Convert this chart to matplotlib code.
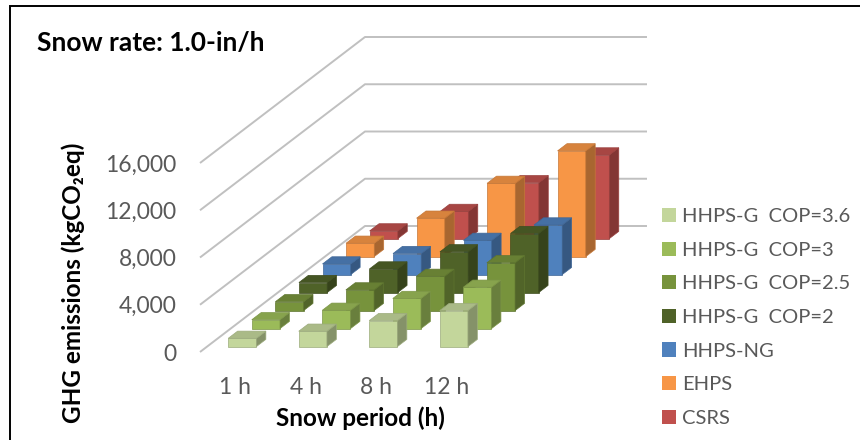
import matplotlib
matplotlib.use("Agg")
import matplotlib.pyplot as plt
from matplotlib.transforms import Affine2D
from matplotlib.patches import Patch, Rectangle
from matplotlib.colors import to_rgb

plt.rcParams["font.family"] = ["Lato", "DejaVu Sans"]

periods = ["1 h", "4 h", "8 h", "12 h"]
series_names = ["HHPS-G  COP=3.6", "HHPS-G  COP=3", "HHPS-G  COP=2.5",
                "HHPS-G  COP=2", "HHPS-NG", "EHPS", "CSRS"]

# GHG emissions (kgCO2eq) per snow period
hhps_g_36 = [700, 1300, 2200, 3050]
hhps_g_3 = [750, 1550, 2550, 3500]
hhps_g_25 = [750, 1750, 2900, 4050]
hhps_g_2 = [850, 2000, 3450, 5000]
hhps_ng = [900, 1780, 2900, 4200]
ehps = [1130, 3250, 6200, 8950]
csrs = [650, 2300, 4730, 7080]
series_values = [hhps_g_36, hhps_g_3, hhps_g_25, hhps_g_2, hhps_ng, ehps, csrs]

colors = ["#c3d69b", "#9bbb59", "#77933c", "#4f6228", "#4f81bd", "#f79646", "#c0504d"]
yticks = [0, 4000, 8000, 12000, 16000]

# oblique projection: one category = CAT_PX pixels wide, each series slot
# steps back by SLOT_PX (right, up)
CAT_PX = 70.5
PX_PER_UNIT = 47.25 / 4000
SLOT_PX = (23.57, 18.0)
DX = SLOT_PX[0] / CAT_PX
DZ = SLOT_PX[1] / PX_PER_UNIT
BAR_W = 0.4
BAR_D = 0.4


def shade(c, f):
    return tuple(v * f for v in to_rgb(c))


fig = plt.figure(figsize=(8.6, 4.4), dpi=100)
ax = fig.add_axes([200 / 860, 88 / 440, 450 / 860, 322 / 440])
ax.patch.set_visible(False)
for sp in ax.spines.values():
    sp.set_visible(False)

n_ser = len(series_values)
n_cat = len(periods)

# side and back wall gridlines
wall_x = n_ser * DX
for v in yticks:
    ax.plot([0, wall_x, wall_x + n_cat], [v, v + n_ser * DZ, v + n_ser * DZ],
            color="#c0c0c0", lw=1.4, zorder=0, clip_on=False, solid_capstyle="butt")


def draw_bar(x0, t0, h, color):
    ec = shade(color, 0.8)
    front = Affine2D().translate(t0 * DX, t0 * DZ) + ax.transData
    ax.bar(x0, h, width=BAR_W, align="edge", color=color, edgecolor=ec,
           lw=0.5, transform=front, clip_on=False)
    side = Affine2D.from_values(DX, DZ, 0, 1, x0 + BAR_W, 0) + ax.transData
    ax.bar(t0, h, width=BAR_D, align="edge", color=shade(color, 0.68),
           edgecolor=ec, lw=0.5, transform=side, clip_on=False)
    top = Affine2D.from_values(1, 0, DX, DZ, 0, h) + ax.transData
    ax.barh(t0, BAR_W, height=BAR_D, left=x0, align="edge", color=shade(color, 0.87),
            edgecolor=ec, lw=0.5, transform=top, clip_on=False)


# paint from the back row to the front
for s in reversed(range(n_ser)):
    t0 = s + (1 - BAR_D) / 2
    for i, h in enumerate(series_values[s]):
        draw_bar(i + (1 - BAR_W) / 2, t0, h, colors[s])

ax.set_xlim(0, 450 / CAT_PX)
ax.set_ylim(0, 322 / PX_PER_UNIT)
ax.set_yticks(yticks, [f"{v:,}" for v in yticks])
ax.set_xticks([i + 0.5 for i in range(n_cat)], periods)
ax.tick_params(axis="both", length=0, labelsize=16.5, labelcolor="#595959")
ax.tick_params(axis="y", pad=17)
ax.tick_params(axis="x", pad=18)

fig.text(73 / 860, 1 - 283 / 440, "GHG emissions (kgCO₂eq)", rotation=90,
         ha="center", va="center", fontsize=17.5, fontweight="bold")
fig.text(360 / 860, 1 - 418 / 440, "Snow period (h)", ha="center", va="center",
         fontsize=17.5, fontweight="bold")
fig.text(37 / 860, 1 - 43 / 440, "Snow rate: 1.0-in/h", ha="left", va="center",
         fontsize=19, fontweight="bold")

handles = [Patch(facecolor=c) for c in colors]
fig.legend(handles, series_names, loc="upper left", bbox_to_anchor=(662 / 860, 1 - 208 / 440),
           frameon=False, fontsize=14.5, labelcolor="#595959", handlelength=0.7,
           handleheight=0.7, handletextpad=0.3, labelspacing=0.82,
           borderpad=0, borderaxespad=0)

fig.add_artist(Rectangle((10 / 860, -0.05), 1.1, 1.05 - 6 / 440, transform=fig.transFigure,
                         fill=False, edgecolor="black", lw=1.4))

fig.savefig("out.png", dpi=100)
